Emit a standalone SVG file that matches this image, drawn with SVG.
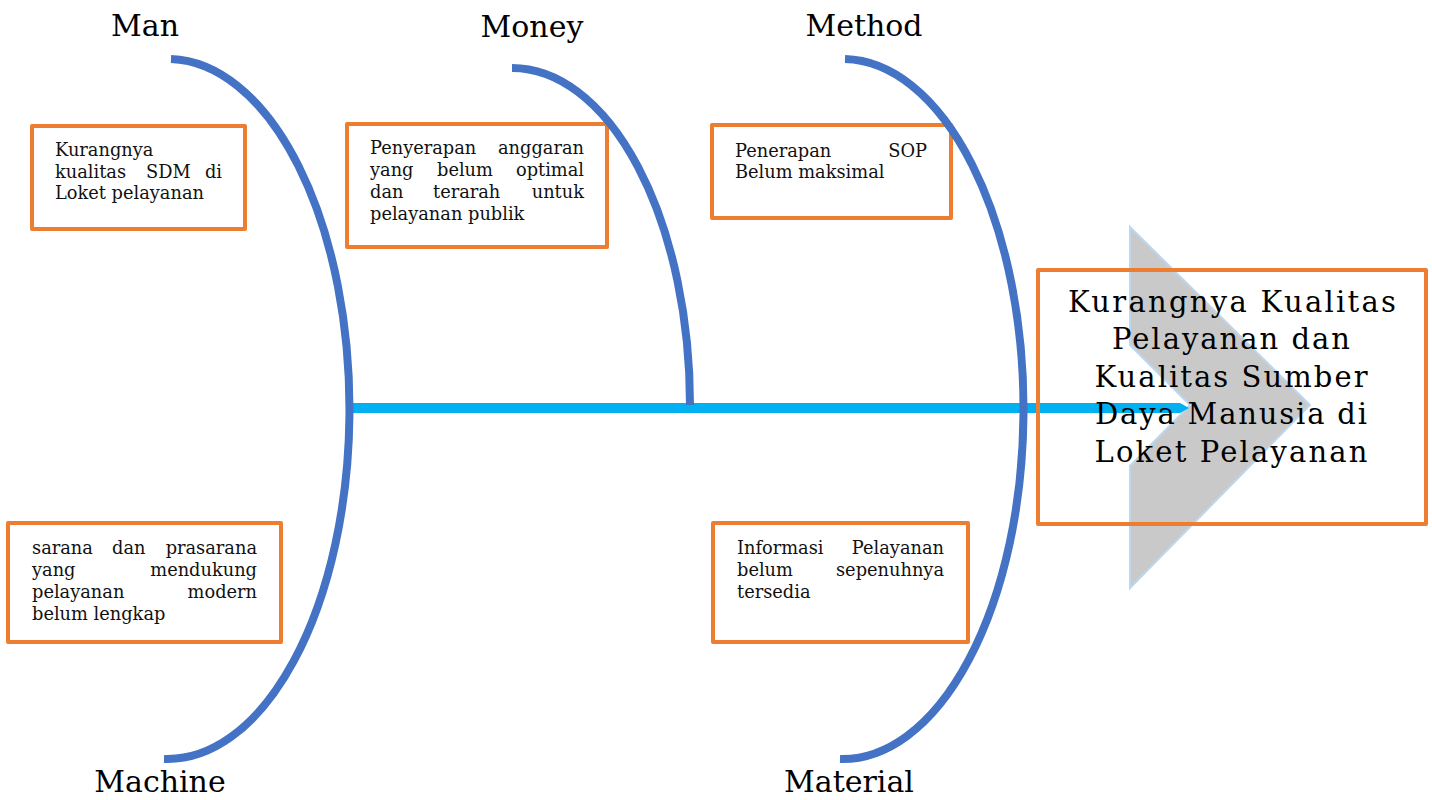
<svg xmlns="http://www.w3.org/2000/svg" width="1432" height="800" viewBox="0 0 1432 800">
<style>
.box{fill:#fff;stroke:#ED7D31;stroke-width:4;stroke-linejoin:round}
.t{font-family:"DejaVu Serif","Liberation Serif",serif;font-size:17.8px;fill:#111}
.h{font-family:"DejaVu Serif","Liberation Serif",serif;font-size:30px;fill:#000;text-anchor:middle}
.m{font-family:"DejaVu Serif","Liberation Serif",serif;font-size:29px;fill:#000;text-anchor:middle}
.arc{fill:none;stroke:#4472C4;stroke-width:8}
.e{text-anchor:end}
</style>
<rect width="1432" height="800" fill="#fff"/>
<g id="head-shape">
<polygon points="1130,227 1310,405 1130,588 1130,466 1190,405 1130,345" fill="#C9C9C9" stroke="#BDD7EE" stroke-width="2"/>
</g>
<g id="node-man">
<rect class="box" x="32" y="126" width="213" height="103"/>
<text class="t" x="55" y="156">Kurangnya</text>
<text class="t" x="55" y="178">kualitas</text><text class="t" x="146" y="178">SDM</text><text class="t e" x="222" y="178">di</text>
<text class="t" x="55" y="199">Loket pelayanan</text>
</g>
<g id="node-money">
<rect class="box" x="347" y="124" width="260" height="123"/>
<text class="t" x="370" y="154">Penyerapan</text><text class="t e" x="584" y="154">anggaran</text>
<text class="t" x="370" y="176">yang</text><text class="t" x="437" y="176">belum</text><text class="t e" x="584" y="176">optimal</text>
<text class="t" x="370" y="198">dan</text><text class="t" x="433" y="198">terarah</text><text class="t e" x="584" y="198">untuk</text>
<text class="t" x="370" y="220">pelayanan publik</text>
</g>
<g id="node-method">
<rect class="box" x="712" y="125" width="239" height="93"/>
<text class="t" x="735" y="157">Penerapan</text><text class="t e" x="927" y="157">SOP</text>
<text class="t" x="735" y="178">Belum maksimal</text>
</g>
<g id="node-machine">
<rect class="box" x="8" y="523" width="273" height="119"/>
<text class="t" x="32" y="554">sarana</text><text class="t" x="112" y="554">dan</text><text class="t e" x="257" y="554">prasarana</text>
<text class="t" x="32" y="576">yang</text><text class="t e" x="257" y="576">mendukung</text>
<text class="t" x="32" y="598">pelayanan</text><text class="t e" x="257" y="598">modern</text>
<text class="t" x="32" y="620">belum lengkap</text>
</g>
<g id="node-material">
<rect class="box" x="713" y="523" width="255" height="119"/>
<text class="t" x="737" y="554">Informasi</text><text class="t e" x="944" y="554">Pelayanan</text>
<text class="t" x="737" y="576">belum</text><text class="t e" x="944" y="576">sepenuhnya</text>
<text class="t" x="737" y="598">tersedia</text>
</g>
<g id="connectors">
<path d="M352,403 H1180 L1189,408 L1180,413 H352 Z" fill="#00B0F0"/>
<path class="arc" d="M171,59 A182 350 0 0 1 164,759"/>
<path class="arc" d="M512,68 A178 337 0 0 1 690,405"/>
<path class="arc" d="M845,59 A181 350 0 0 1 840,759"/>
</g>
<g id="node-effect">
<rect x="1038" y="270" width="388" height="254" fill="none" stroke="#ED7D31" stroke-width="4" stroke-linejoin="round"/>
<text class="m" x="1232" y="312" textLength="328" lengthAdjust="spacing">Kurangnya Kualitas</text>
<text class="m" x="1231" y="349" textLength="238" lengthAdjust="spacing">Pelayanan dan</text>
<text class="m" x="1231" y="387" textLength="273" lengthAdjust="spacing">Kualitas Sumber</text>
<text class="m" x="1231" y="424" textLength="272" lengthAdjust="spacing">Daya Manusia di</text>
<text class="m" x="1231" y="462" textLength="273" lengthAdjust="spacing">Loket Pelayanan</text>
</g>
<g id="labels">
<text class="h" x="145" y="36">Man</text>
<text class="h" x="532" y="37">Money</text>
<text class="h" x="864" y="36">Method</text>
<text class="h" x="160" y="792">Machine</text>
<text class="h" x="849" y="792">Material</text>
</g>
</svg>
